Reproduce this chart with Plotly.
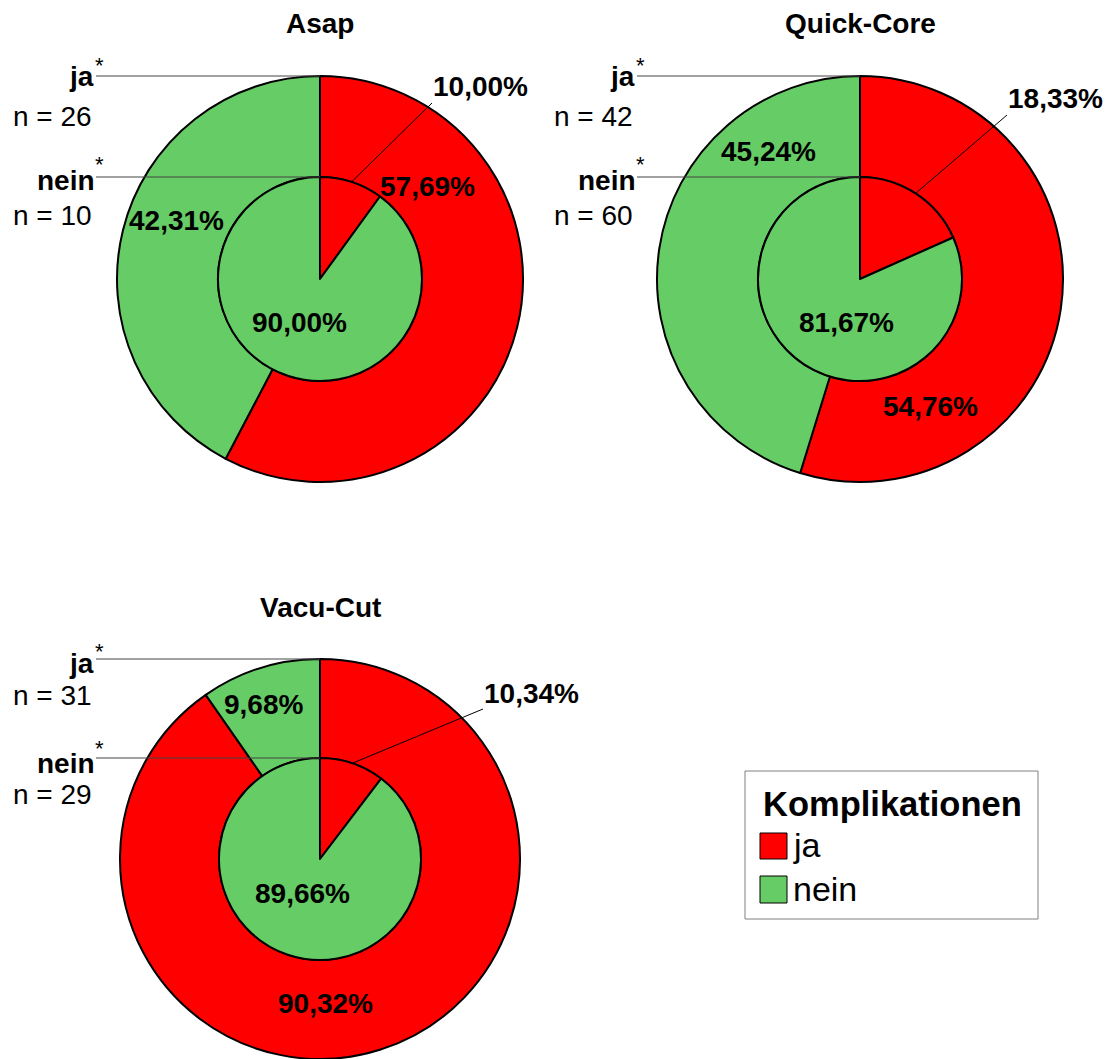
import math
import plotly.graph_objects as go

# ---- data ----------------------------------------------------------------
groups = ["Asap", "Quick-Core", "Vacu-Cut"]
categories = ["ja", "nein"]                 # Komplikationen
n_ja = [26, 42, 31]                          # outer ring (row "ja")
n_nein = [10, 60, 29]                        # inner pie (row "nein")
outer_ja_pct = [57.69, 54.76, 90.32]
outer_nein_pct = [42.31, 45.24, 9.68]
inner_ja_pct = [10.00, 18.33, 10.34]
inner_nein_pct = [90.00, 81.67, 89.66]

# ---- canvas / styling ------------------------------------------------------
W, H = 1109, 1059
RED, GREEN = "#FF0000", "#66CC66"
FONT = "Liberation Sans, Arial, sans-serif"


def px(x):
    return x / W


def py(y):
    return 1 - y / H


def pct(v):
    return f"{v:.2f}".replace(".", ",") + "%"


# pie centres and radii (pixels)
centers = [(320, 279), (860, 279), (320, 859)]
r_out = [203, 203, 200]
r_in = [102, 102, 101]

# label placement (pixel centres): outer-ja, outer-nein, inner-ja, inner-nein
label_pos = [
    [(427, 187), (176, 221), (480, 86), (300, 322)],
    [(930, 407), (768, 151), (1055, 99), (846, 322)],
    [(325, 1003), (263, 704), (531, 693), (302, 893)],
]
# where the leader line of the small inner slice label starts
leader_start = [(432, 103), (1007, 115), (483, 709)]
title_y = [24, 24, 607]
# row caption baselines: ja, n(ja), nein, n(nein); right edge x of captions
row_base = [(87, 127, 190, 225), (87, 127, 190, 225), (673, 705, 773, 804)]
caption_right = [95, 636, 95]

fig = go.Figure()
annotations = []
shapes = []


def text(x, y, s, size, bold=False, xanchor="center"):
    annotations.append(dict(
        x=px(x), y=py(y), xref="paper", yref="paper", text=f"<b>{s}</b>" if bold else s,
        showarrow=False, xanchor=xanchor, yanchor="middle", borderpad=0,
        font=dict(family=FONT, size=size, color="black"),
    ))


for i, g in enumerate(groups):
    cx, cy = centers[i]
    ro, ri = r_out[i], r_in[i]
    pie_style = dict(
        labels=categories, sort=False, direction="clockwise", rotation=0,
        textinfo="none", hoverinfo="label+percent", showlegend=False,
        marker=dict(colors=[RED, GREEN], line=dict(color="black", width=2)),
    )
    fig.add_trace(go.Pie(
        values=[outer_ja_pct[i], outer_nein_pct[i]], hole=ri / ro, name=f"{g} ja",
        domain=dict(x=[px(cx - ro), px(cx + ro)], y=[max(0, py(cy + ro)), py(cy - ro)]),
        **pie_style,
    ))
    fig.add_trace(go.Pie(
        values=[inner_ja_pct[i], inner_nein_pct[i]], name=f"{g} nein",
        domain=dict(x=[px(cx - ri), px(cx + ri)], y=[py(cy + ri), py(cy - ri)]),
        **pie_style,
    ))

    # title
    text(cx, title_y[i], g, 28, bold=True)

    # row captions with horizontal leader lines to the ring tops
    b_ja, b_nja, b_nein, b_nnein = row_base[i]
    xr = caption_right[i]
    text(xr, b_ja - 10, "ja", 28, bold=True, xanchor="right")
    text(xr + 4, b_ja - 22, "*", 22)
    text(xr - 2, b_nja - 10, f"n = {n_ja[i]}", 28, xanchor="right")
    text(xr + 1, b_nein - 10, "nein", 28, bold=True, xanchor="right")
    text(xr + 4, b_nein - 25, "*", 22)
    text(xr - 2, b_nnein - 10, f"n = {n_nein[i]}", 28, xanchor="right")
    for yy in (cy - ro, cy - ri):
        shapes.append(dict(type="line", xref="paper", yref="paper",
                           x0=px(xr + 1), x1=px(cx), y0=py(yy), y1=py(yy),
                           line=dict(color="#444444", width=1)))

    # percentage labels
    vals = [outer_ja_pct[i], outer_nein_pct[i], inner_ja_pct[i], inner_nein_pct[i]]
    for (lx, ly), v in zip(label_pos[i], vals):
        text(lx, ly, pct(v), 28, bold=True)

    # leader line from the inner "ja" label to the middle of its slice edge
    ang = math.radians(inner_ja_pct[i] / 100 * 360 / 2)
    ex, ey = cx + ri * math.sin(ang), cy - ri * math.cos(ang)
    sx, sy = leader_start[i]
    shapes.append(dict(type="line", xref="paper", yref="paper",
                       x0=px(sx), y0=py(sy), x1=px(ex), y1=py(ey),
                       line=dict(color="black", width=1)))

# ---- legend box ------------------------------------------------------------
shapes.append(dict(type="rect", xref="paper", yref="paper",
                   x0=px(745), x1=px(1038), y0=py(919), y1=py(771),
                   line=dict(color="#808080", width=1), fillcolor="white", layer="below"))
text(762, 804, "Komplikationen", 34.5, bold=True, xanchor="left")
for (y0, y1), c, lab in zip([(833, 859), (876, 903)], [RED, GREEN], categories):
    shapes.append(dict(type="rect", xref="paper", yref="paper",
                       x0=px(760), x1=px(787), y0=py(y1), y1=py(y0),
                       line=dict(color="black", width=1), fillcolor=c))
    text(792, (y0 + y1) / 2 - 1, lab, 34, xanchor="left")

fig.update_layout(
    width=W, height=H, margin=dict(l=0, r=0, t=0, b=0),
    paper_bgcolor="white", plot_bgcolor="white",
    annotations=annotations, shapes=shapes,
)

fig.write_html("out.html")
